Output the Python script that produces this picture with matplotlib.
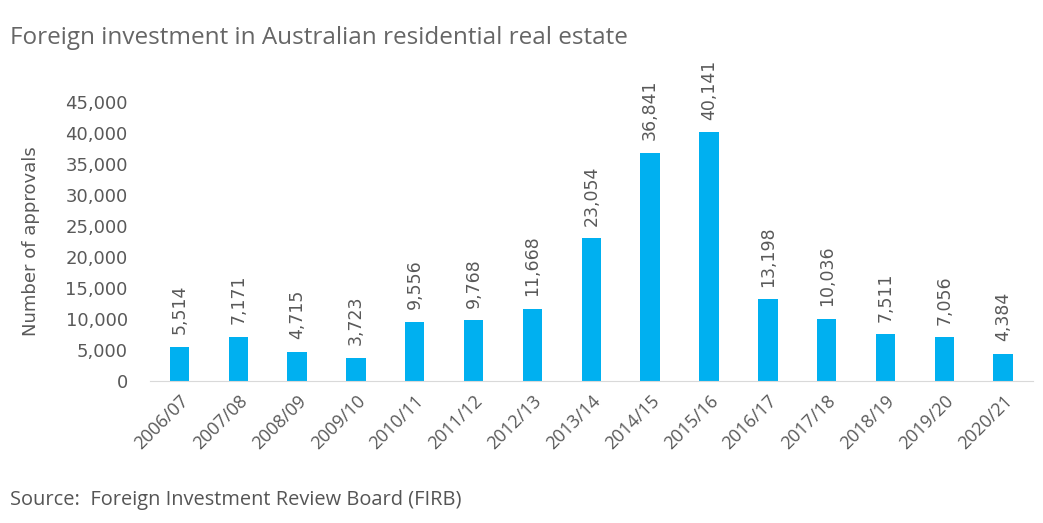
import matplotlib.pyplot as plt
import matplotlib.ticker as mticker

plt.rcParams['font.family'] = ['DejaVu Sans']

years = ['2006/07', '2007/08', '2008/09', '2009/10', '2010/11', '2011/12', '2012/13',
         '2013/14', '2014/15', '2015/16', '2016/17', '2017/18', '2018/19', '2019/20', '2020/21']
approvals = [5514, 7171, 4715, 3723, 9556, 9768, 11668,
             23054, 36841, 40141, 13198, 10036, 7511, 7056, 4384]

fig = plt.figure(figsize=(10.43, 5.23), dpi=100)
ax = fig.add_axes([0.1438, 0.2715, 0.8462, 0.5335])

x = range(len(years))
ax.bar(x, approvals, width=0.33, color='#00B0F0')

# value labels above each bar, rotated
for i, v in enumerate(approvals):
    ax.annotate(f'{v:,}', (i, v), xytext=(0, 9), textcoords='offset points',
                rotation=90, ha='center', va='bottom', fontsize=12.5, color='#595959')

ax.set_xlim(-0.5, len(years) - 0.5)
ax.set_ylim(0, 45000)
ax.yaxis.set_major_locator(mticker.MultipleLocator(5000))
ax.yaxis.set_major_formatter(mticker.FuncFormatter(lambda v, p: f'{int(v):,}'))
ax.set_xticks(list(x))
ax.set_xticklabels(years, rotation=45, ha='right', rotation_mode='anchor',
                   family='Open Sans', fontsize=13)
ax.tick_params(axis='both', length=0, labelcolor='#595959')
ax.tick_params(axis='y', pad=16, labelsize=13)
ax.tick_params(axis='x', pad=8)

for s in ['top', 'right', 'left']:
    ax.spines[s].set_visible(False)
ax.spines['bottom'].set_color('#d9d9d9')

ax.set_ylabel('Number of approvals', fontsize=13, color='#595959', labelpad=18)

fig.text(0.0096, 0.927, 'Foreign investment in Australian residential real estate',
         fontsize=17.5, color='#666666', va='center', ha='left', family='Open Sans')
fig.text(0.0096, 0.044, 'Source:  Foreign Investment Review Board (FIRB)',
         fontsize=14.4, color='#555555', va='center', ha='left', family='Open Sans')

fig.savefig('out.png', dpi=100)
